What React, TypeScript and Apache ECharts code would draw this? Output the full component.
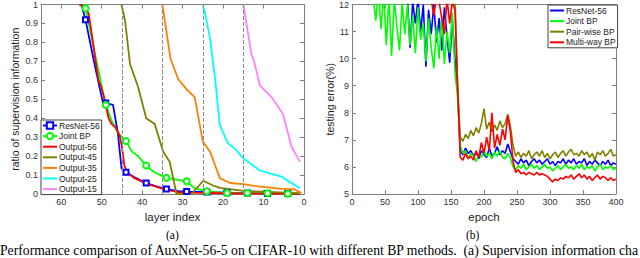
import React, { useEffect, useRef } from "react";
import * as echarts from "echarts";

// ---------- (a) supervision information vs layer index ----------
const layerTicksMax = 65;
const markerLayers = [54, 49, 44, 39, 34, 29, 24, 19, 14, 9, 4];
const dividerLayers = [45, 35, 25, 15];

const resnet56A = [[55, 1], [54, 0.92], [52, 0.71], [50.5, 0.56], [49.7, 0.485], [49, 0.48], [47.2, 0.47], [46, 0.32], [45.1, 0.136], [44, 0.115], [42, 0.09], [39, 0.058], [36.5, 0.04], [34, 0.026], [31, 0.015], [29, 0.013], [24, 0.01], [19, 0.007], [14, 0.005], [9, 0.003], [4, 0.002], [1, 0.001]];
const jointBPA = [[55.5, 1], [54, 0.98], [53, 0.88], [51, 0.67], [49, 0.47], [47.6, 0.39], [46.2, 0.33], [45, 0.3], [44, 0.28], [42.6, 0.225], [41, 0.2], [39, 0.15], [37, 0.115], [34, 0.085], [29, 0.067], [27, 0.03], [24, 0.014], [19, 0.005], [14, 0.005], [9, 0.004], [4, 0.001], [1, 0.001]];
const output56 = [[55.5, 1], [54, 0.985], [53.2, 0.95], [52.5, 0.85], [51.5, 0.7], [50.8, 0.6], [50.2, 0.57], [49.3, 0.5], [48.3, 0.4], [47.6, 0.37], [46.5, 0.35], [45.6, 0.31], [45, 0.25], [44.4, 0.15], [43.5, 0.11], [42, 0.085], [39, 0.055], [36, 0.035], [34, 0.022], [31, 0.01], [28, 0.007], [20, 0.004], [10, 0.002], [1, 0.001]];
const output45 = [[45.1, 1], [44.2, 0.91], [43, 0.686], [41, 0.565], [39, 0.4], [36.9, 0.37], [34.8, 0.223], [33.2, 0.17], [31.5, 0.0], [27.8, 0.0], [24.9, 0.07], [22.5, 0.045], [20.8, 0.032], [15, 0.016], [1, 0.005]];
const output35 = [[35, 1], [33, 0.715], [31.1, 0.607], [29.1, 0.555], [27, 0.51], [25, 0.275], [23.2, 0.223], [20.8, 0.084], [18.3, 0.058], [15, 0.052], [11.4, 0.04], [6, 0.028], [2.3, 0.024], [0.6, 0.005]];
const output25 = [[25, 1], [24, 0.91], [23.2, 0.816], [22, 0.616], [20.8, 0.363], [18.8, 0.267], [17.1, 0.24], [15, 0.188], [10.9, 0.124], [5.6, 0.092], [3.5, 0.064], [1, 0.03]];
const output15 = [[15, 1], [13, 0.738], [12.2, 0.69], [10.9, 0.572], [8, 0.511], [5.2, 0.424], [3.1, 0.249], [1, 0.171]];

// ---------- (b) testing error vs epoch (one value every 4 epochs) ----------
const epochStep = 4;
const resnet56B = [
  15, 14.5, 14, 13.6, 13.3, 13.1, 12.9, 12.8, 12.6, 12.5,
  12.4, 12.6, 12.3, 12.5, 12.2, 12.4, 12.3, 12.1, 12.5, 12.2,
  12.3, 12.2, 10.4, 12.1, 11.3, 12.2, 11.0, 12.0, 9.7, 11.8,
  10.9, 12.0, 10.6, 11.5, 10.3, 11.9, 10.8, 9.85, 11.4, 10.0,
  8.8, 6.6, 6.45, 6.7, 6.5, 6.6, 6.4, 6.55, 6.3, 6.6,
  6.45, 6.35, 6.7, 6.4, 6.5, 6.75, 6.45, 6.6, 6.5, 6.85,
  6.55, 6.3, 6.2, 6.1, 6.3, 6.15, 6.25, 6.05, 6.2, 6.3,
  6.15, 6.25, 6.1, 6.2, 6.3, 6.1, 6.2, 6.05, 6.2, 6.15,
  6.3, 6.1, 6.25, 6.15, 6.3, 6.1, 6.2, 6.15, 6.3, 6.05,
  6.2, 6.1, 6.25, 6.15, 6.05, 6.2, 6.1, 6.25, 6.05, 6.15,
  6.1,
];
const jointBPB = [
  14.5, 14.0, 13.6, 13.2, 13.0, 12.8, 12.6, 12.5, 12.3, 11.4,
  12.5, 11.1, 12.4, 10.5, 12.3, 10.1, 12.2, 11.2, 10.3, 12.1,
  10.9, 12.0, 10.5, 11.6, 10.2, 11.9, 10.7, 11.3, 9.9, 11.5,
  10.4, 9.65, 11.2, 10.0, 11.6, 9.8, 11.0, 10.2, 11.7, 9.5,
  8.6, 6.8, 6.5, 6.6, 6.3, 6.5, 6.4, 6.2, 6.45, 6.35,
  6.6, 6.4, 6.5, 6.3, 6.55, 6.4, 6.6, 6.35, 6.3, 6.5,
  6.35, 6.0, 5.9, 6.05, 5.95, 6.1, 5.9, 6.0, 6.1, 5.95,
  6.05, 5.9, 6.0, 6.1, 5.95, 6.0, 5.85, 5.95, 6.05, 5.9,
  6.0, 6.1, 5.95, 6.0, 5.9, 6.05, 5.95, 6.1, 5.9, 6.0,
  5.95, 6.05, 5.85, 6.0, 6.1, 5.9, 6.0, 5.95, 6.05, 5.9,
  5.95,
];
const pairwiseBP = [
  15.5, 15, 14.6, 14.2, 13.9, 13.6, 13.4, 13.2, 13.0, 12.9,
  12.8, 12.7, 12.6, 12.5, 12.4, 12.5, 12.3, 12.4, 12.3, 12.2,
  12.4, 12.3, 12.2, 12.3, 12.2, 12.4, 12.3, 12.2, 12.3, 12.2,
  12.3, 12.2, 12.4, 12.2, 12.3, 12.2, 12.3, 12.2, 12.1, 12.3,
  9.0, 7.1, 6.95, 7.2, 7.05, 7.35, 7.15, 7.45, 7.25, 7.6,
  8.15, 7.4, 7.65, 7.3, 7.55, 7.35, 7.7, 7.45, 7.6, 7.95,
  7.5, 6.8, 6.4, 6.55, 6.35, 6.5, 6.4, 6.6, 6.3, 6.45,
  6.55, 6.4, 6.6, 6.35, 6.5, 6.3, 6.45, 6.55, 6.35, 6.5,
  6.6, 6.4, 6.55, 6.65, 6.45, 6.5, 6.4, 6.6, 6.45, 6.55,
  6.35, 6.5, 6.25, 6.55, 6.45, 6.6, 6.4, 6.5, 6.65, 6.4,
  6.45,
];
const multiwayBP = [
  15, 14.6, 14.2, 13.9, 13.6, 13.4, 13.2, 13.0, 12.9, 12.8,
  12.7, 12.6, 12.5, 12.4, 12.5, 12.3, 12.4, 12.3, 12.2, 12.4,
  12.3, 12.2, 12.3, 12.4, 12.2, 12.3, 12.2, 12.3, 12.1, 12.3,
  12.2, 11.6, 12.3, 12.1, 11.5, 10.9, 12.2, 11.3, 12.1, 11.8,
  9.0, 6.35, 6.25, 6.5, 6.3, 6.4, 6.25, 6.6, 6.35, 6.9,
  6.5, 7.1, 6.6, 8.0, 6.7, 7.2, 6.8, 7.4, 7.0, 7.9,
  7.3, 6.2, 5.8, 5.9, 5.75, 5.8, 5.7, 5.8, 5.75, 5.7,
  5.8, 5.7, 5.75, 5.7, 5.65, 5.55, 5.45, 5.55, 5.5, 5.6,
  5.55, 5.65, 5.6, 5.7, 5.55, 5.65, 5.75, 5.6, 5.7, 5.55,
  5.65, 5.5, 5.6, 5.7, 5.55, 5.65, 5.6, 5.5, 5.6, 5.5,
  5.55,
];

const legendA = ["ResNet-56", "Joint BP", "Output-56", "Output-45", "Output-35", "Output-25", "Output-15"];
const legendAMarked = ["ResNet-56", "Joint BP"];
const legendB = ["b:ResNet-56", "b:Joint BP", "b:Pair-wise BP", "b:Multi-way BP"];

const captionA = "(a)";
const captionB = "(b)";
const figureCaption =
  "Performance comparison of AuxNet-56-5 on CIFAR-10 with different BP methods.  (a) Supervision information cha";

const FONT = "'Liberation Sans', Arial, sans-serif";
const SERIF = "'Liberation Serif', 'Times New Roman', serif";
const FRAME = "#808080";

function frameAxis(extra: any) {
  return {
    type: "value",
    axisLine: { show: true, onZero: false, lineStyle: { color: FRAME, width: 1 } },
    axisTick: { show: true, inside: true, length: 4, lineStyle: { color: FRAME } },
    axisLabel: { fontSize: 9, color: "#333", margin: 3, fontFamily: FONT },
    splitLine: { show: false },
    ...extra,
  };
}

function withMarkers(points: number[][], symbol: string) {
  return points.map((p) => ({
    value: p,
    symbol: markerLayers.includes(p[0]) ? symbol : "none",
  }));
}

function epochSeries(values: number[]) {
  return values.map((v, i) => [i * epochStep, v]);
}

export default function App() {
  const ref = useRef<HTMLDivElement>(null);
  useEffect(() => {
    if (!ref.current) return;
    const chart = echarts.init(ref.current, undefined, { renderer: "svg" });
    const lineA = (name: string, color: string, data: any, extra: any = {}) => ({
      name,
      type: "line",
      xAxisIndex: 0,
      yAxisIndex: 0,
      data,
      symbol: "none",
      lineStyle: { color, width: 1.8 },
      itemStyle: { color },
      ...extra,
    });
    const lineB = (name: string, color: string, values: number[]) => ({
      name,
      type: "line",
      xAxisIndex: 2,
      yAxisIndex: 2,
      data: epochSeries(values),
      symbol: "none",
      lineStyle: { color, width: 1.6 },
      itemStyle: { color },
    });
    const legendBase = {
      orient: "vertical",
      backgroundColor: "#fff",
      borderColor: "#404040",
      borderWidth: 1,
      borderRadius: 0,
      padding: [1, 2, 1, 1],
      itemGap: 1.6,
      itemWidth: 14,
      itemHeight: 8,
      textStyle: { fontSize: 8.5, lineHeight: 9, color: "#222", fontFamily: FONT, padding: [0, 0, 0, -3] },
    };
    const hideSymbol = (names: string[], marked: string[]) =>
      names.map((n) => (marked.includes(n) ? { name: n } : { name: n, itemStyle: { opacity: 0 } }));
    chart.setOption({
      animation: false,
      textStyle: { fontFamily: FONT },
      grid: [
        { left: 41, top: 3, width: 263, height: 191 },
        { left: 352, top: 3, width: 264, height: 191 },
      ],
      xAxis: [
        frameAxis({
          gridIndex: 0, min: 0, max: layerTicksMax, interval: 10, inverse: true, position: "bottom",
          axisLabel: { fontSize: 9, color: "#333", margin: 3, fontFamily: FONT, showMaxLabel: false },
          name: "layer index", nameLocation: "middle", nameGap: 11,
          nameTextStyle: { fontSize: 11.5, color: "#222", fontFamily: FONT },
        }),
        frameAxis({ gridIndex: 0, min: 0, max: layerTicksMax, interval: 10, inverse: true, position: "top", axisLabel: { show: false } }),
        frameAxis({
          gridIndex: 1, min: 0, max: 400, interval: 50, position: "bottom",
          name: "epoch", nameLocation: "middle", nameGap: 11,
          nameTextStyle: { fontSize: 11.5, color: "#222", fontFamily: FONT },
        }),
        frameAxis({ gridIndex: 1, min: 0, max: 400, interval: 50, position: "top", axisLabel: { show: false } }),
      ],
      yAxis: [
        frameAxis({
          gridIndex: 0, min: 0, max: 1, interval: 0.1, position: "left",
          name: "ratio of supervision information", nameLocation: "middle", nameGap: 21,
          nameTextStyle: { fontSize: 10.5, color: "#222", fontFamily: FONT },
        }),
        frameAxis({ gridIndex: 0, min: 0, max: 1, interval: 0.1, position: "right", axisLabel: { show: false } }),
        frameAxis({
          gridIndex: 1, min: 5, max: 12, interval: 1, position: "left",
          name: "testing error(%)", nameLocation: "middle", nameGap: 17,
          nameTextStyle: { fontSize: 10.5, color: "#222", fontFamily: FONT },
        }),
        frameAxis({ gridIndex: 1, min: 5, max: 12, interval: 1, position: "right", axisLabel: { show: false } }),
      ],
      legend: [
        {
          ...legendBase,
          left: 41,
          top: 120,
          data: hideSymbol(legendA, legendAMarked),
        },
        {
          ...legendBase,
          left: 548,
          top: 5,
          data: hideSymbol(legendB, []),
          formatter: (n: string) => n.replace("b:", ""),
        },
      ],
      graphic: [
        { type: "text", left: 166, top: 229, style: { text: captionA, font: `11.5px ${SERIF}`, fill: "#000" } },
        { type: "text", left: 466, top: 229, style: { text: captionB, font: `11.5px ${SERIF}`, fill: "#000" } },
        { type: "text", left: 0, top: 243, style: { text: figureCaption, font: `13.7px ${SERIF}`, fill: "#000" } },
      ],
      series: [
        lineA("ResNet-56", "#0000ff", withMarkers(resnet56A, "emptyRect"), {
          symbol: "emptyRect", symbolSize: 5, z: 3,
          itemStyle: { color: "#0000ff", borderWidth: 1.5 },
          markLine: {
            silent: true,
            symbol: ["none", "none"],
            label: { show: false },
            lineStyle: { color: "#8a8a8a", type: [4, 2], width: 1 },
            data: dividerLayers.map((l) => ({ xAxis: l })),
          },
        }),
        lineA("Joint BP", "#00ff00", withMarkers(jointBPA, "emptyCircle"), {
          symbol: "emptyCircle", symbolSize: 6, z: 3,
          itemStyle: { color: "#00ff00", borderWidth: 1.5 },
        }),
        lineA("Output-56", "#ff0000", output56),
        lineA("Output-45", "#808000", output45),
        lineA("Output-35", "#ff8000", output35),
        lineA("Output-25", "#00ffff", output25),
        lineA("Output-15", "#ff80ff", output15),
        lineB("b:ResNet-56", "#0000ff", resnet56B),
        lineB("b:Joint BP", "#00ff00", jointBPB),
        lineB("b:Pair-wise BP", "#808000", pairwiseBP),
        lineB("b:Multi-way BP", "#ff0000", multiwayBP),
      ],
    });
    return () => chart.dispose();
  }, []);
  return (
    <div
      ref={ref}
      style={{ position: "fixed", left: 0, top: 0, width: 640, height: 258, background: "#fff" }}
    />
  );
}
